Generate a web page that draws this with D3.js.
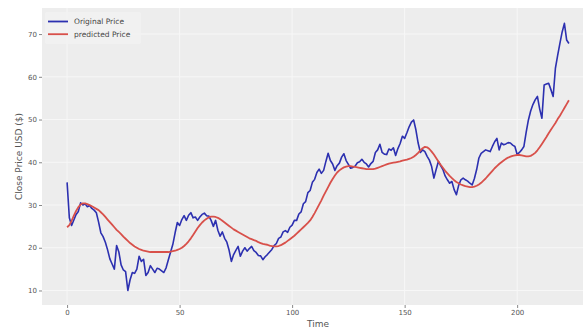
<!DOCTYPE html>
<html><head><meta charset="utf-8">
<script src="https://cdn.jsdelivr.net/npm/d3@7"></script>
<style>body{margin:0;background:#fff}svg{display:block}text{font-family:"DejaVu Sans",sans-serif}</style>
</head><body>
<script>
const originalPrice = [
35.3,27.0,25.2,26.5,27.8,28.5,30.5,30.0,30.3,29.6,
29.9,29.2,28.8,28.2,26.0,23.5,22.6,21.3,19.5,17.4,
16.2,15.0,20.5,19.0,16.0,14.8,14.4,10.0,12.5,14.2,
14.0,15.0,18.0,16.8,17.3,13.5,14.2,15.8,15.0,14.2,
15.2,15.0,14.6,14.2,15.3,17.2,19.0,20.8,23.5,25.9,
25.2,26.6,27.5,26.4,27.6,28.2,27.0,27.2,26.4,27.2,
27.8,28.1,27.5,27.4,26.4,25.0,26.4,24.1,22.7,23.7,
22.2,21.3,19.4,16.8,18.4,19.4,20.3,18.0,19.2,20.0,
19.2,19.8,20.3,19.3,18.9,18.2,18.1,17.2,17.9,18.4,
19.0,19.6,20.5,21.0,22.2,22.5,23.7,24.0,23.6,24.8,
25.3,26.4,26.4,27.9,28.4,30.3,30.8,32.9,33.4,35.3,
36.0,37.6,38.4,37.4,38.1,40.2,42.1,40.4,39.6,38.1,
39.2,39.8,41.2,42.0,40.4,39.5,38.6,38.8,39.1,39.9,
40.1,40.7,40.0,39.6,38.9,39.7,40.2,42.3,42.9,44.2,
42.3,41.9,41.8,43.1,42.8,43.4,41.6,43.2,44.4,46.1,
45.6,46.9,48.3,49.4,49.9,47.6,44.5,42.3,42.9,42.5,
41.4,40.5,39.0,36.3,38.3,40.2,39.2,38.3,36.8,35.9,
35.1,35.5,33.6,32.4,34.6,35.9,36.3,35.9,35.6,35.1,
34.7,36.2,38.3,41.0,42.1,42.5,42.9,42.7,42.5,43.7,
44.8,45.6,42.9,44.5,44.1,44.3,44.6,44.5,44.0,43.7,
41.8,42.3,42.9,43.7,47.0,49.9,52.0,53.5,54.6,55.4,
52.5,50.3,58.1,58.3,58.5,57.0,55.4,62.0,65.0,67.8,
70.5,72.5,68.6,67.8
];
const predictedPrice = [
24.8,25.3,26.3,27.5,28.6,29.5,30.1,30.4,30.4,30.2,
30.0,29.7,29.4,29.1,28.8,28.3,27.8,27.2,26.6,26.0,
25.4,24.8,24.2,23.7,23.2,22.6,22.1,21.6,21.1,20.7,
20.3,20.0,19.7,19.5,19.3,19.2,19.1,19.0,19.0,19.0,
19.0,19.0,19.0,19.0,19.0,19.0,19.1,19.2,19.3,19.5,
19.7,20.0,20.4,20.9,21.5,22.2,23.0,23.8,24.6,25.3,
25.9,26.4,26.8,27.1,27.3,27.3,27.2,27.0,26.7,26.3,
25.9,25.5,25.1,24.7,24.3,24.0,23.7,23.4,23.1,22.8,
22.5,22.2,22.0,21.8,21.6,21.3,21.1,20.9,20.8,20.7,
20.5,20.4,20.3,20.3,20.4,20.6,20.9,21.2,21.6,22.0,
22.4,22.8,23.3,23.8,24.3,24.8,25.3,25.8,26.4,27.2,
28.1,29.1,30.1,31.1,32.2,33.2,34.2,35.2,36.1,36.9,
37.6,38.1,38.5,38.8,39.0,39.1,39.1,39.0,38.9,38.8,
38.7,38.6,38.5,38.4,38.4,38.4,38.4,38.5,38.7,38.9,
39.1,39.3,39.5,39.7,39.8,39.9,40.0,40.1,40.2,40.4,
40.5,40.6,40.8,41.0,41.3,41.7,42.2,42.8,43.3,43.6,
43.5,43.1,42.5,41.8,41.0,40.2,39.4,38.7,38.0,37.4,
36.8,36.3,35.8,35.4,35.1,34.8,34.6,34.4,34.3,34.2,
34.2,34.3,34.5,34.8,35.2,35.7,36.2,36.8,37.4,38.0,
38.6,39.1,39.6,40.0,40.4,40.8,41.1,41.3,41.5,41.6,
41.7,41.7,41.6,41.5,41.4,41.4,41.5,41.8,42.2,42.8,
43.5,44.3,45.1,45.9,46.8,47.6,48.4,49.2,50.1,50.9,
51.8,52.7,53.6,54.5
];
const xTicks = [0, 50, 100, 150, 200];
const yTicks = [10, 20, 30, 40, 50, 60, 70];
const seriesNames = ["Original Price", "predicted Price"];

const W = 583, H = 331;
const svg = d3.select("body").append("svg").attr("width", W).attr("height", H);
const plotL = 42, plotR = 594, plotT = 8, plotB = 305;
const x = d3.scaleLinear().domain([-11.15, 234.15]).range([plotL, plotR]);
const y = d3.scaleLinear().domain([6.6, 76.1]).range([plotB, plotT]);

svg.append("rect").attr("x", plotL).attr("y", plotT).attr("width", plotR - plotL).attr("height", plotB - plotT).attr("fill", "#ededed");

// grid
svg.append("g").selectAll("line").data(xTicks).join("line")
  .attr("x1", d => x(d)).attr("x2", d => x(d)).attr("y1", plotT).attr("y2", plotB)
  .attr("stroke", "#f7f7f7").attr("stroke-width", 1);
svg.append("g").selectAll("line").data(yTicks).join("line")
  .attr("y1", d => y(d)).attr("y2", d => y(d)).attr("x1", plotL).attr("x2", plotR)
  .attr("stroke", "#f7f7f7").attr("stroke-width", 1);

// axes
const xAxis = svg.append("g").attr("transform", `translate(0,${plotB})`)
  .call(d3.axisBottom(x).tickValues(xTicks).tickSize(3).tickPadding(2).tickFormat(d3.format("d")));
const yAxis = svg.append("g").attr("transform", `translate(${plotL},0)`)
  .call(d3.axisLeft(y).tickValues(yTicks).tickSize(3).tickPadding(2).tickFormat(d3.format("d")));
[xAxis, yAxis].forEach(a => {
  a.select(".domain").remove();
  a.selectAll(".tick line").attr("stroke", "#888");
  a.selectAll(".tick text").attr("fill", "#555").style("font-size", "7px").style("font-family", "DejaVu Sans, sans-serif");
});

svg.append("text").attr("x", (plotL + plotR) / 2).attr("y", 327).attr("text-anchor", "middle")
  .attr("fill", "#555").style("font-size", "9px").text("Time");
svg.append("text").attr("transform", `translate(22,${(plotT + plotB) / 2}) rotate(-90)`).attr("text-anchor", "middle")
  .attr("fill", "#555").style("font-size", "9px").text("Close Price USD ($)");

const line = d3.line().x((d, i) => x(i)).y(d => y(d));
svg.append("path").datum(originalPrice).attr("d", line).attr("fill", "none")
  .attr("stroke", "#2c30b0").attr("stroke-width", 1.6).attr("stroke-linejoin", "round");
svg.append("path").datum(predictedPrice).attr("d", line).attr("fill", "none")
  .attr("stroke", "#d8504a").attr("stroke-width", 1.8).attr("stroke-linejoin", "round");

// legend
const colors = ["#2c30b0", "#d8504a"];
const lg = svg.append("g");
lg.append("rect").attr("x", 45).attr("y", 12).attr("width", 96).attr("height", 32).attr("rx", 2)
  .attr("fill", "#f2f2f2").attr("fill-opacity", 0.7);
seriesNames.forEach((n, k) => {
  const yy = 21.5 + k * 12.7;
  lg.append("line").attr("x1", 48).attr("x2", 68).attr("y1", yy).attr("y2", yy)
    .attr("stroke", colors[k]).attr("stroke-width", 1.8);
  lg.append("text").attr("x", 74).attr("y", yy + 2.5).attr("fill", "#444")
    .style("font-size", "7.5px").text(n);
});
</script>
</body></html>
